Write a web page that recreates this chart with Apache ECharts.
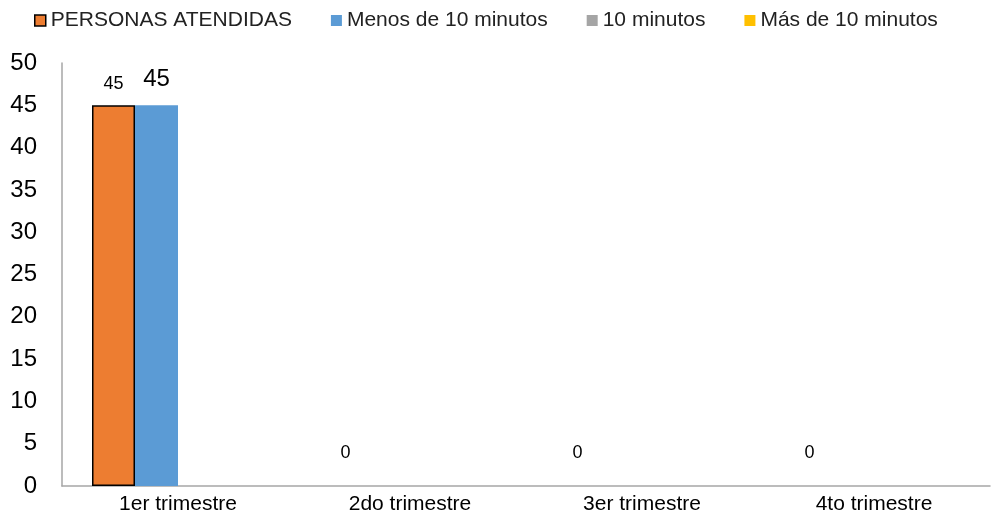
<!DOCTYPE html>
<html><head><meta charset="utf-8">
<script src="https://cdn.jsdelivr.net/npm/echarts@6/dist/echarts.min.js"></script>
<style>html,body{margin:0;padding:0;background:#fff}#c{width:999px;height:520px}</style>
</head><body><div id="c"></div>
<script>
const categories = ['1er trimestre', '2do trimestre', '3er trimestre', '4to trimestre'];
const personasAtendidas = [45, 0, 0, 0];
const menosDe10 = [45, null, null, null];
const diezMinutos = [null, null, null, null];
const masDe10 = [null, null, null, null];
const yTicks = [0, 50, 5];

const font = 'Liberation Sans, Arial, sans-serif';
const chart = echarts.init(document.getElementById('c'));
chart.setOption({
  animation: false,
  textStyle: { fontFamily: font },
  legend: {
    left: 29, top: 5, itemWidth: 11, itemHeight: 11, itemGap: 39,
    icon: 'rect',
    textStyle: { fontSize: 21, color: '#222', fontFamily: font },
    data: [
      { name: 'PERSONAS ATENDIDAS', itemStyle: { borderColor: '#000', borderWidth: 1.5 } },
      'Menos de 10 minutos', '10 minutos', 'Más de 10 minutos'
    ]
  },
  grid: { left: 62, right: 9, top: 63, bottom: 34, containLabel: false },
  xAxis: {
    type: 'category', data: categories,
    axisLine: { lineStyle: { color: '#a6a6a6', width: 1.5 } },
    axisTick: { show: false },
    axisLabel: { fontSize: 21, color: '#000', margin: 8, fontFamily: font }
  },
  yAxis: {
    type: 'value', min: yTicks[0], max: yTicks[1], interval: yTicks[2],
    axisLine: { show: true, lineStyle: { color: '#a6a6a6', width: 1.5 } },
    axisTick: { show: false },
    splitLine: { show: false },
    axisLabel: { fontSize: 24, color: '#000', margin: 25, align: 'right', fontFamily: font }
  },
  series: [
    { name: 'PERSONAS ATENDIDAS', type: 'bar', barWidth: 43, barGap: '0%',
      data: personasAtendidas.map(v => ({
        value: v,
        label: { distance: v === 0 ? 24 : 12 },
        itemStyle: v === 0 ? { borderWidth: 0 } : {}
      })),
      itemStyle: { color: '#ed7d31', borderColor: '#000', borderWidth: 1.5 },
      label: { show: true, position: 'top', fontSize: 18, color: '#000', fontFamily: font } },
    { name: 'Menos de 10 minutos', type: 'bar', data: menosDe10, barWidth: 43,
      itemStyle: { color: '#5b9bd5' },
      label: { show: true, position: 'top', fontSize: 24, color: '#000', distance: 14, fontFamily: font } },
    { name: '10 minutos', type: 'bar', data: diezMinutos, barWidth: 43, itemStyle: { color: '#a5a5a5' } },
    { name: 'Más de 10 minutos', type: 'bar', data: masDe10, barWidth: 43, itemStyle: { color: '#ffc000' } }
  ]
});
</script></body></html>
